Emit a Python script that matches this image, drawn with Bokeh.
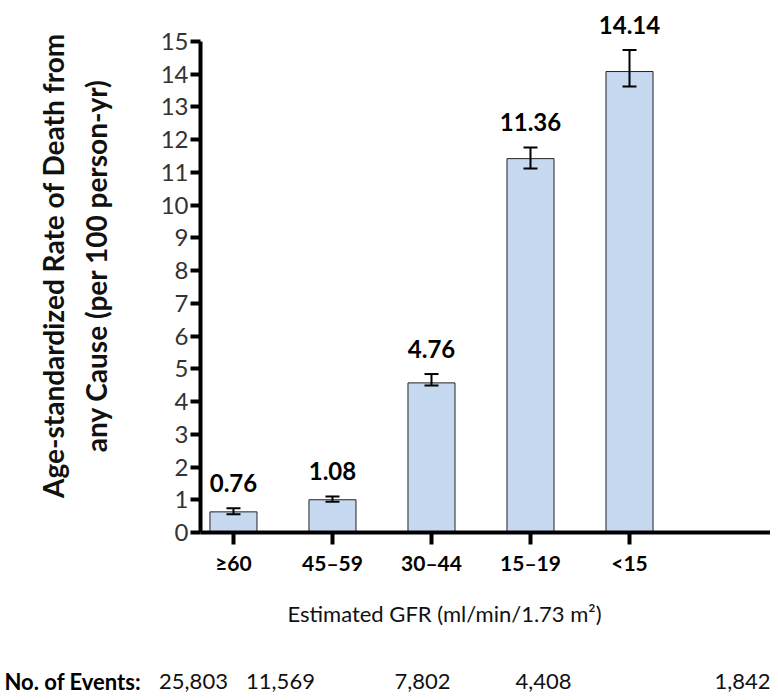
from math import pi
from bokeh.plotting import figure
from bokeh.layouts import row, column
from bokeh.models import (ColumnDataSource, Whisker, TeeHead, FixedTicker, Range1d)
from bokeh.core.properties import value
from bokeh.embed import file_html
from bokeh.resources import INLINE

# ---- data ----
gfr_groups = ["\u226560", "45\u201359", "30\u201344", "15\u201319", "<15"]
bar_rate = [0.63, 1.0, 4.57, 11.42, 14.08]
err_low = [0.56, 0.94, 4.49, 11.12, 13.62]
err_high = [0.74, 1.10, 4.84, 11.76, 14.74]
rate_text = ["0.76", "1.08", "4.76", "11.36", "14.14"]
events = ["25,803", "11,569", "7,802", "4,408", "1,842"]
events_title = "No. of Events:"
y_title = ["Age-standardized Rate of Death from", "any Cause (per 100 person-yr)"]
x_title = "Estimated GFR (ml/min/1.73 m\u00b2)"
y_ticks = list(range(0, 16))

FONT = "Lato"
idx = list(range(len(gfr_groups)))

# ---- layout constants (pixels) ----
TOTAL_W = 770
TITLE_W = 130          # width of the strip holding the y title
MAIN_H = 582           # height of the chart figure
FRAME_LEFT = 200       # x of the y axis on the page
FRAME_H = 532          # height of the plotting frame
BOTTOM_H = 114         # strip with x title and event counts


def blank(width, height, x_range, y_range):
    f = figure(width=width, height=height, output_backend="svg", toolbar_location=None,
               x_range=x_range, y_range=y_range, x_axis_type=None, y_axis_type=None,
               min_border=0, min_border_left=0, min_border_right=0,
               min_border_top=0, min_border_bottom=0)
    f.outline_line_color = None
    f.xgrid.grid_line_color = None
    f.ygrid.grid_line_color = None
    return f


# ---- main chart ----
src = ColumnDataSource(dict(x=idx, top=bar_rate, lo=err_low, hi=err_high, txt=rate_text))

p = figure(width=TOTAL_W - TITLE_W, height=MAIN_H, output_backend="svg", toolbar_location=None,
           x_range=Range1d(-0.333, 5.424), y_range=Range1d(0, 16.25),
           min_border_left=FRAME_LEFT - TITLE_W, min_border_right=0, min_border_top=0,
           min_border_bottom=MAIN_H - FRAME_H)
p.outline_line_color = None
p.xgrid.grid_line_color = None
p.ygrid.grid_line_color = None

p.vbar(x="x", top="top", width=0.475, source=src, fill_color="#C6D9F1",
       line_color="#222222", line_width=1)

wh = Whisker(base="x", upper="hi", lower="lo", source=src, line_color="black", line_width=2,
             upper_head=TeeHead(size=14, line_width=2, line_color="black"),
             lower_head=TeeHead(size=14, line_width=2, line_color="black"),
             level="annotation")
p.add_layout(wh)

p.text(x="x", y="hi", text="txt", source=src, text_align="center", text_baseline="middle",
       y_offset=-25, text_font=value(FONT), text_font_style="bold", text_font_size="24px",
       text_color="black")

ya = p.yaxis[0]
ya.ticker = FixedTicker(ticks=y_ticks)
ya.bounds = (0, 15)
ya.axis_line_width = 4
ya.axis_line_color = "black"
ya.major_tick_line_width = 4
ya.major_tick_line_color = "black"
ya.major_tick_out = 10
ya.major_tick_in = 0
ya.minor_tick_line_color = None
ya.major_label_text_font = FONT
ya.major_label_text_font_size = "24px"
ya.major_label_text_color = "#333333"
ya.major_label_standoff = 2

xa = p.xaxis[0]
xa.ticker = FixedTicker(ticks=idx)
xa.major_label_overrides = {i: g for i, g in zip(idx, gfr_groups)}
xa.axis_line_width = 4
xa.axis_line_color = "black"
xa.major_tick_line_width = 4
xa.major_tick_line_color = "black"
xa.major_tick_out = 12
xa.major_tick_in = 0
xa.minor_tick_line_color = None
xa.major_label_text_font = FONT
xa.major_label_text_font_style = "bold"
xa.major_label_text_font_size = "21px"
xa.major_label_text_color = "black"
xa.major_label_standoff = 5

# ---- y title strip (y measured from the top, in pixels) ----
yt = blank(TITLE_W, MAIN_H, Range1d(0, TITLE_W), Range1d(MAIN_H, 0))
yt.text(x=[52, 95], y=[290, 290], text=y_title, angle=pi / 2, text_align="center",
        text_baseline="middle", text_font=value(FONT), text_font_style="bold",
        text_font_size="28px", text_color="#111111")

# ---- bottom strip: x title and event counts (y measured from its top) ----
bt = blank(TOTAL_W, BOTTOM_H, Range1d(0, TOTAL_W), Range1d(BOTTOM_H, 0))
bt.text(x=[444], y=[613 - MAIN_H], text=[x_title], text_align="center", text_baseline="middle",
        text_font=value(FONT), text_font_size="22px", text_color="#111111")
bt.text(x=[4], y=[681 - MAIN_H], text=[events_title], text_align="left", text_baseline="middle",
        text_font=value(FONT), text_font_style="bold", text_font_size="22px", text_color="black")
bt.text(x=[193, 280, 422, 543, 742], y=[681 - MAIN_H] * len(events), text=events,
        text_align="center", text_baseline="middle", text_font=value(FONT),
        text_font_size="22px", text_color="#111111")

layout = column(row(yt, p, spacing=0), bt, spacing=0)
open("out.html", "w").write(file_html(layout, INLINE))
